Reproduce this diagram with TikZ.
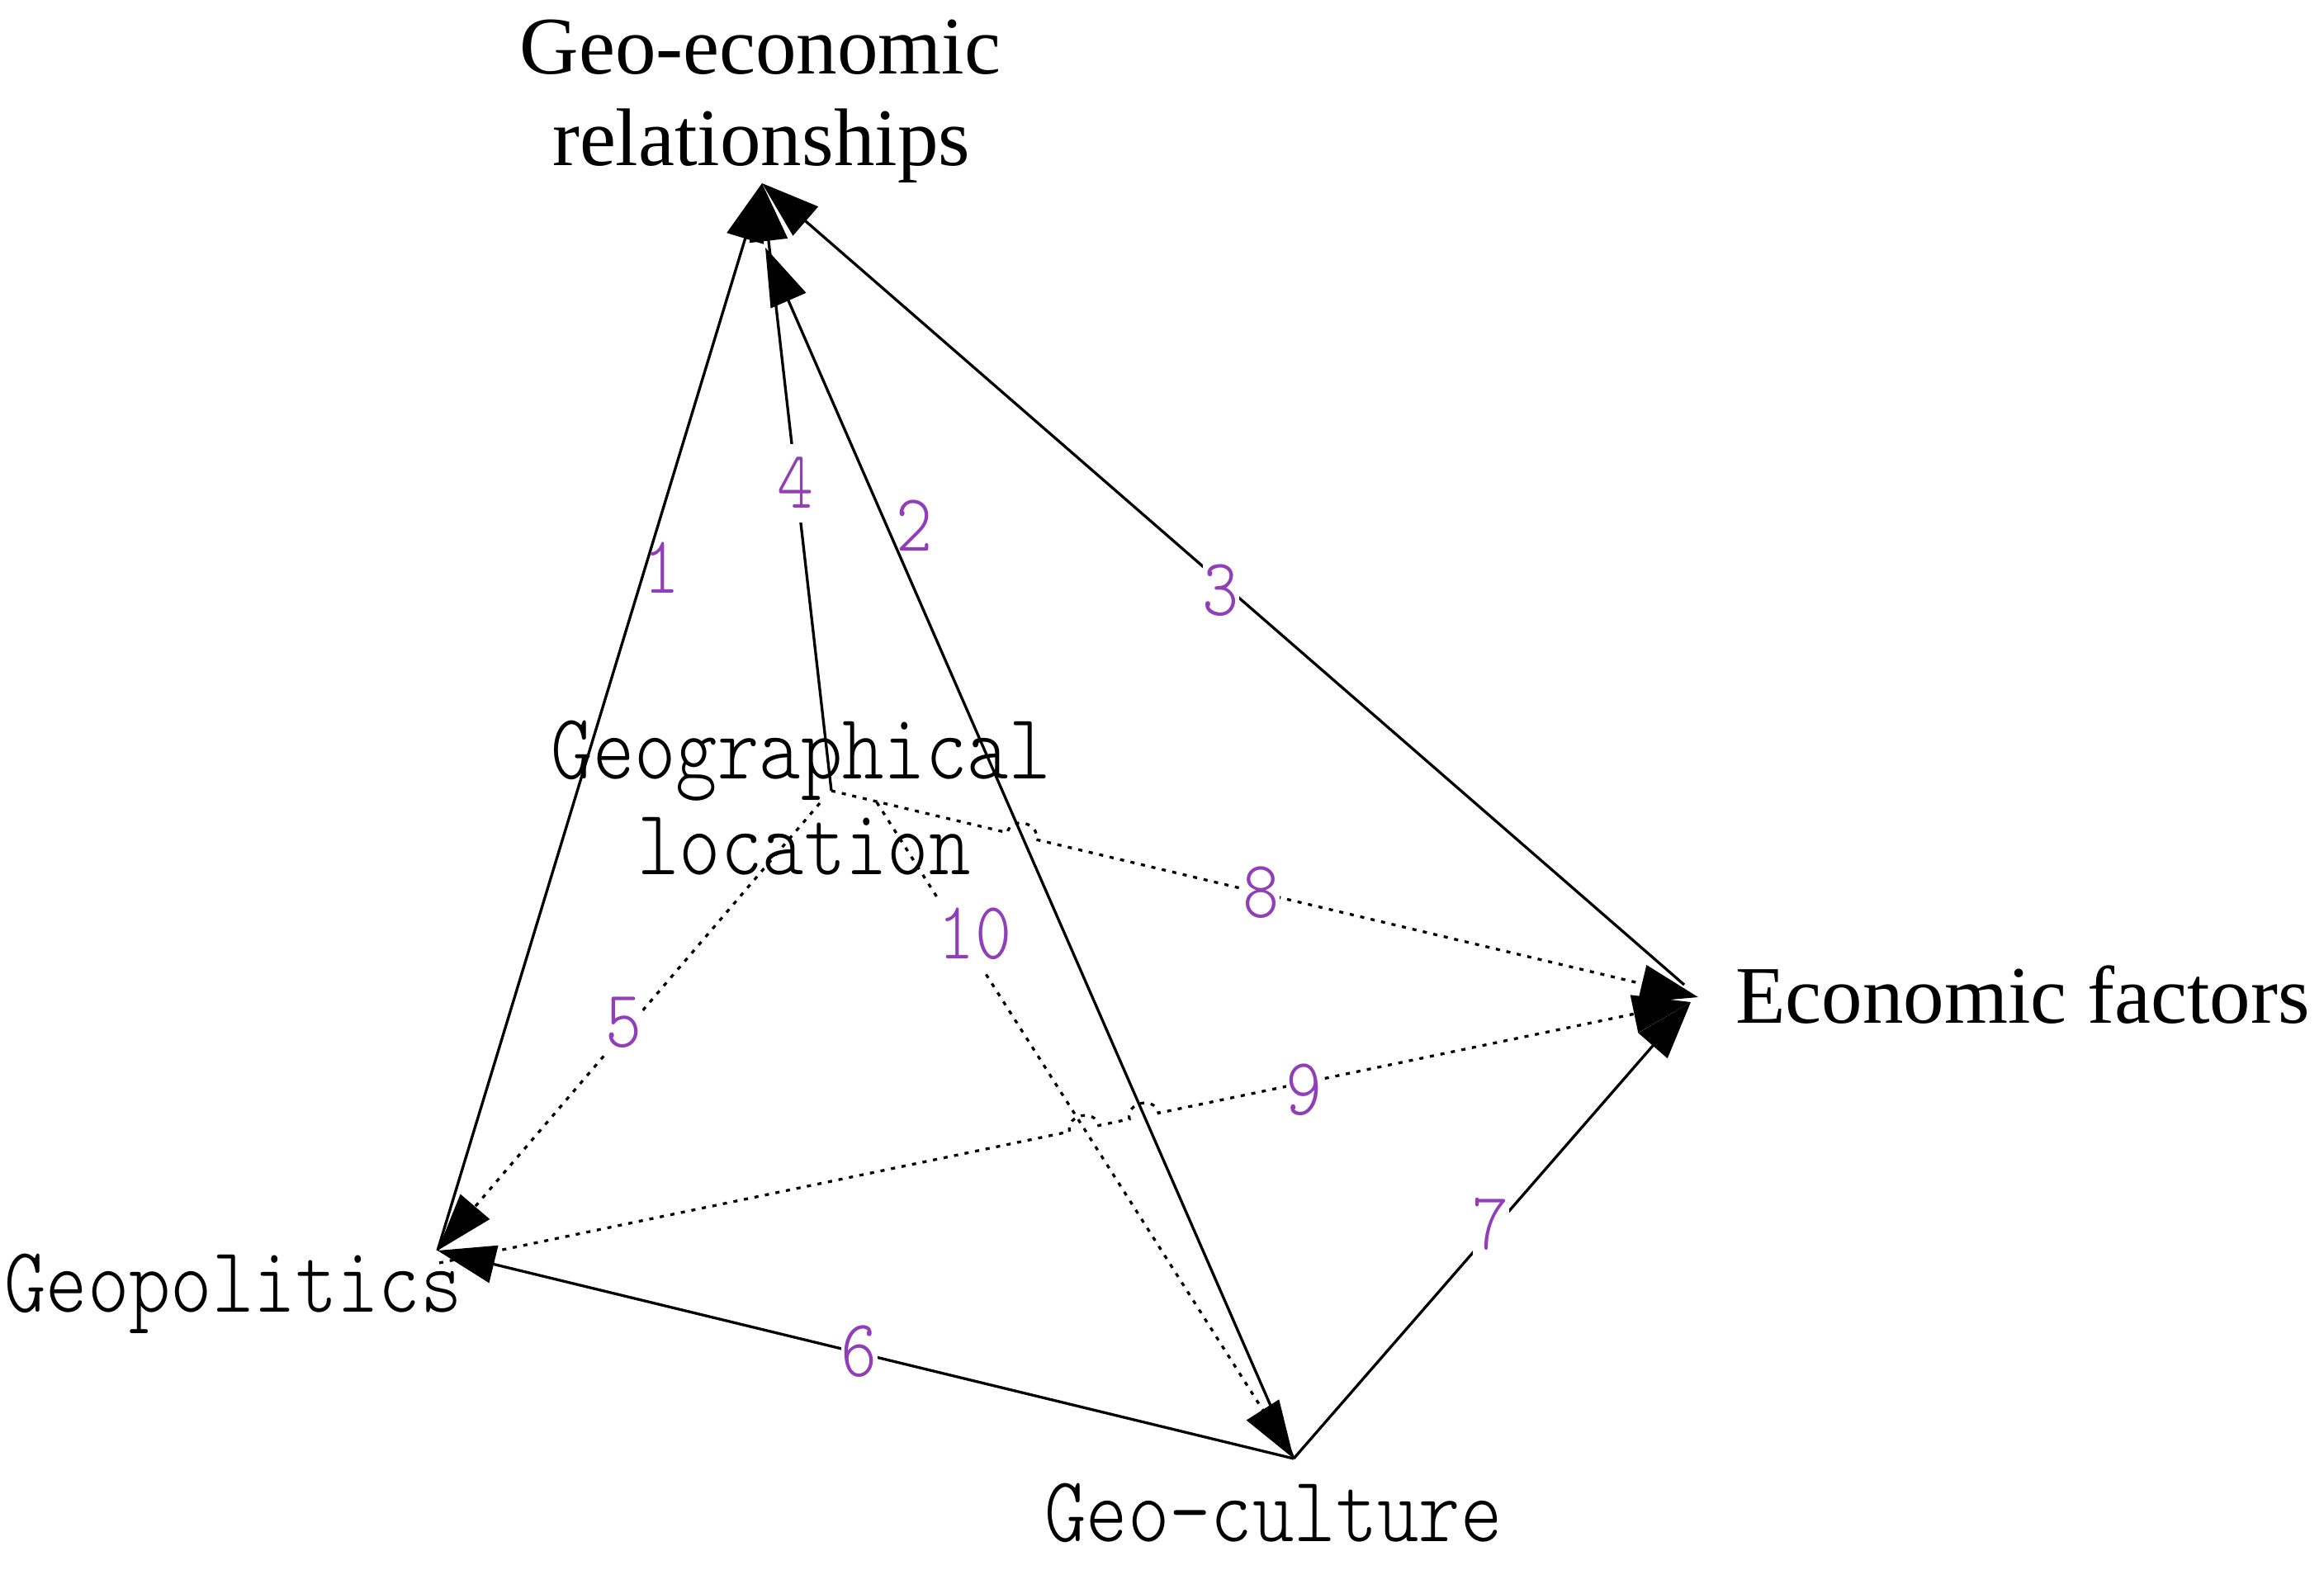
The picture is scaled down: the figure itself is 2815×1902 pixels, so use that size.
\documentclass[tikz,border=0pt]{standalone}
\usepackage{fontspec}
\setmainfont{Liberation Serif}
\newfontfamily\monolight{lmmonolt10-regular.otf}
\usepackage{graphicx}
\usetikzlibrary{arrows.meta,calc}
\definecolor{numpurple}{RGB}{145,62,185}
\newcommand{\vst}[1]{\scalebox{1}[1.18]{#1}}
\begin{document}
\begin{tikzpicture}[x=1pt,y=-1pt,
  conn/.style={line width=3.3pt, -{Triangle[length=70pt,width=46pt]}},
  solidconn/.style={conn},
  dotconn/.style={conn, dash pattern=on 5pt off 8pt},
  serlabel/.style={font=\fontsize{99}{111}\selectfont, inner sep=0pt},
  monolabel/.style={font=\fontsize{96}{116}\selectfont\monolight, inner sep=0pt},
  numtext/.style={font=\fontsize{84}{95}\selectfont\monolight, text=numpurple, inner xsep=0pt, inner ysep=0pt, minimum height=95pt},
  numlabel/.style={numtext, fill=white},
  jump/.style={bend left=90, looseness=1.5}
]
\fill[white] (0,0) rectangle (2815,1902);
\useasboundingbox (0,0) rectangle (2815,1902);

% text nodes
\node[serlabel, anchor=base] (geoecon1) at (921,90) {Geo-economic};
\node[serlabel, anchor=base] (geoecon2) at (922,201) {relationships};
\node[monolabel, anchor=base] (geoloc1) at (970,943) {\vst{Geographical}};
\node[monolabel, anchor=base] (geoloc2) at (974,1059) {\vst{location}};
\node[serlabel, anchor=base west] (econ) at (2102,1239) {Economic factors};
\node[monolabel, anchor=base west] (geopol) at (5,1589) {\vst{Geopolitics}};
\node[monolabel, anchor=base west] (geocul) at (1265,1867) {\vst{Geo-culture}};

% connection points
\coordinate (A) at (923,222);
\coordinate (A2) at (927,300);
\coordinate (P) at (530,1515);
\coordinate (P9) at (532,1530);
\coordinate (C) at (1567,1767);
\coordinate (E) at (2057,1208);
\coordinate (E3) at (2040,1193);
\coordinate (E2) at (2048,1214);
\coordinate (G) at (1007,958);
\coordinate (G5) at (993,973);
\coordinate (G10) at (1062,972);

% connectors
\draw[solidconn] (P) -- (A);   % 1
\draw[solidconn] (C) -- (A2);  % 2
\draw[solidconn] (E3) -- (A);  % 3
\draw[solidconn] (G) -- (A);   % 4
\draw[dotconn] (G5) -- (P);    % 5
\draw[solidconn] (C) -- (P);   % 6
\draw[solidconn] (C) -- (E2);  % 7
\draw[dotconn] (G) -- ($(G)!219pt!(E)$) to[jump] ($(G)!255pt!(E)$) -- (E); % 8
\draw[dotconn] (P9) -- ($(P9)!780pt!(E2)$) to[jump] ($(P9)!816pt!(E2)$)
   -- ($(P9)!854pt!(E2)$) to[jump] ($(P9)!890pt!(E2)$) -- (E2); % 9
\draw[dotconn] (G10) -- (C);   % 10

% number labels
\node[numtext] (n1) at (802,688) {\vst{1}};
\node[numtext] (n2) at (1108,637) {\vst{2}};
\node[numlabel] (n3) at (1479,715) {\vst{3}};
\node[numlabel] (n4) at (964,585) {\vst{4}};
\node[numlabel] (n5) at (756,1239) {\vst{5}};
\node[numlabel] (n6) at (1041,1637) {\vst{6}};
\node[numlabel] (n7) at (1806,1483) {\vst{7}};
\node[numlabel] (n8) at (1528,1081) {\vst{8}};
\node[numlabel] (n9) at (1580,1320) {\vst{9}};
\node[numlabel] (n10) at (1181,1131) {\vst{10}};
\end{tikzpicture}
\end{document}
